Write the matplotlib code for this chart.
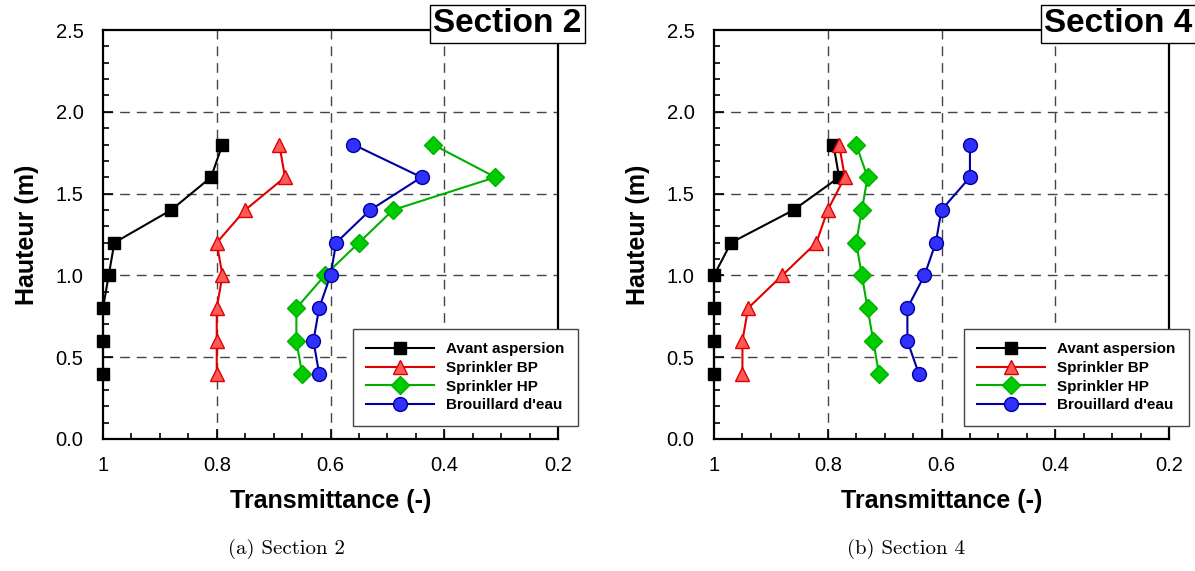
import matplotlib
matplotlib.use("Agg")
import matplotlib.pyplot as plt
from matplotlib.ticker import MultipleLocator, FixedLocator

plt.rcParams['font.family'] = ['Liberation Sans', 'DejaVu Sans']

# heights of the measurement points (m)
hauteur = [0.4, 0.6, 0.8, 1.0, 1.2, 1.4, 1.6, 1.8]

# Section 2 transmittance
s2_avant = [1.00, 1.00, 1.00, 0.99, 0.98, 0.88, 0.81, 0.79]
s2_bp = [0.80, 0.80, 0.80, 0.79, 0.80, 0.75, 0.68, 0.69]
s2_hp = [0.65, 0.66, 0.66, 0.61, 0.55, 0.49, 0.31, 0.42]
s2_brouillard = [0.62, 0.63, 0.62, 0.60, 0.59, 0.53, 0.44, 0.56]

# Section 4 transmittance
s4_avant = [1.00, 1.00, 1.00, 1.00, 0.97, 0.86, 0.78, 0.79]
s4_bp = [0.95, 0.95, 0.94, 0.88, 0.82, 0.80, 0.77, 0.78]
s4_hp = [0.71, 0.72, 0.73, 0.74, 0.75, 0.74, 0.73, 0.75]
s4_brouillard = [0.64, 0.66, 0.66, 0.63, 0.61, 0.60, 0.55, 0.55]

labels = ["Avant aspersion", "Sprinkler BP", "Sprinkler HP", "Brouillard d'eau"]
xticks = [1.0, 0.8, 0.6, 0.4, 0.2]
xticklabels = ["1", "0.8", "0.6", "0.4", "0.2"]

# style per series: line colour, marker, marker face, marker edge, size
styles = [
    dict(color='black', marker='s', mfc='black', mec='black', ms=8.5),
    dict(color='#E00000', marker='^', mfc='#FF5A5A', mec='#E00000', ms=10),
    dict(color='#00B000', marker='D', mfc='#00CC00', mec='#00B000', ms=9),
    dict(color='#0000A0', marker='o', mfc='#3030FF', mec='#0000A0', ms=10),
]

fig = plt.figure(figsize=(11.95, 5.71), dpi=100)
W, H = 1195.0, 571.0


def draw_panel(left_px, series, section, caption, cap_x):
    ax = fig.add_axes([left_px / W, (H - 439) / H, 455 / W, 409 / H])
    for vals, lab, st in zip(series, labels, styles):
        ax.plot(vals, hauteur, color=st['color'], lw=1.5, marker=st['marker'],
                markerfacecolor=st['mfc'], markeredgecolor=st['mec'],
                markeredgewidth=1.0, markersize=st['ms'], label=lab,
                clip_on=False, zorder=3)
    ax.set_xlim(1.0, 0.2)
    ax.set_ylim(0, 2.5)
    ax.xaxis.set_major_locator(FixedLocator(xticks))
    ax.set_xticklabels(xticklabels)
    ax.xaxis.set_minor_locator(MultipleLocator(0.05))
    ax.yaxis.set_major_locator(MultipleLocator(0.5))
    ax.yaxis.set_minor_locator(MultipleLocator(0.1))
    ax.yaxis.set_major_formatter(matplotlib.ticker.FormatStrFormatter('%.1f'))
    ax.tick_params(which='both', direction='in', top=False, right=False, width=1.2)
    ax.tick_params(which='major', length=7, labelsize=14.5)
    ax.tick_params(axis='y', which='major', pad=14)
    ax.tick_params(axis='x', which='major', pad=12)
    ax.tick_params(which='minor', length=4)
    for sp in ax.spines.values():
        sp.set_linewidth(1.6)
    # dashed grid, no lines on the outer frame
    for gx in [0.8, 0.6, 0.4]:
        ax.axvline(gx, color='#444444', lw=1.0, ls=(0, (7, 5)), zorder=1)
    for gy in [0.5, 1.0, 1.5, 2.0]:
        ax.axhline(gy, color='#444444', lw=1.0, ls=(0, (7, 5)), zorder=1)
    ax.set_xlabel('Transmittance (-)', fontsize=18, fontweight='bold', labelpad=10)
    ax.set_ylabel('Hauteur (m)', fontsize=18, fontweight='bold', labelpad=12)

    leg = ax.legend(loc='lower right', bbox_to_anchor=(1.044, 0.032),
                    borderaxespad=0, handlelength=4.4, handletextpad=0.8,
                    borderpad=0.9, labelspacing=0.3, fancybox=False, framealpha=1,
                    edgecolor='#444444', prop={'weight': 'bold', 'size': 11})
    leg.get_frame().set_linewidth(1.0)
    leg.set_zorder(5)

    ax.text(1.052, 1.015, section, transform=ax.transAxes, ha='right', va='center',
            fontsize=24, fontweight='bold', zorder=10, clip_on=False,
            bbox=dict(boxstyle='square,pad=0.1', fc='white', ec='black', lw=1.0))

    fig.text(cap_x / W, (H - 549) / H, caption, ha='center', va='center',
             fontsize=15, family=['cmr10', 'DejaVu Serif'])
    return ax


draw_panel(103, [s2_avant, s2_bp, s2_hp, s2_brouillard], 'Section 2', '(a) Section 2', 286)
draw_panel(714, [s4_avant, s4_bp, s4_hp, s4_brouillard], 'Section 4', '(b) Section 4', 906)

fig.savefig('out.png', dpi=100)
